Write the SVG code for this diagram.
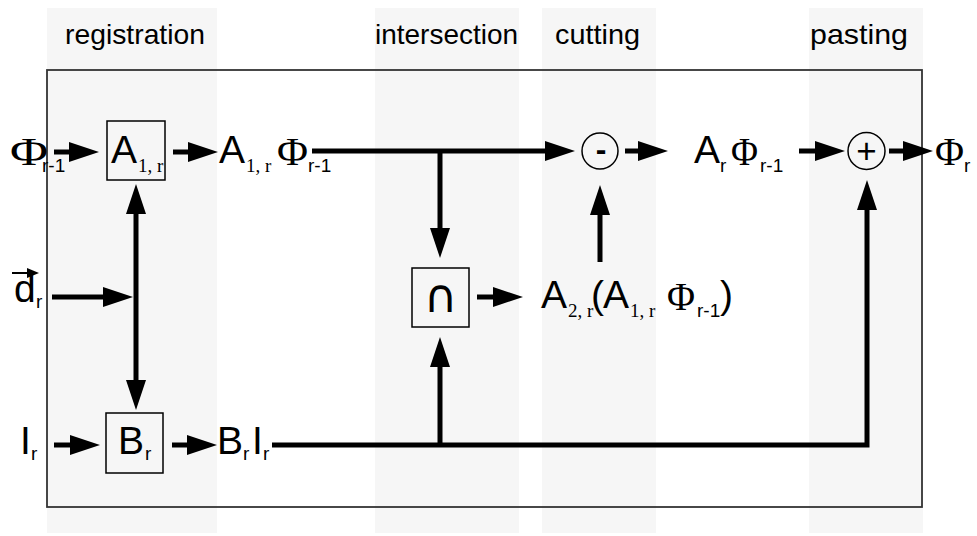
<svg xmlns="http://www.w3.org/2000/svg" width="977" height="536" viewBox="0 0 977 536">
<style>
.band{fill:#f6f6f6}
.hdr{font-family:"Liberation Sans",Arial,sans-serif;font-size:28px;fill:#000}
.big{font-family:"Liberation Sans",Arial,sans-serif;font-size:39px;fill:#000}
.phi{font-family:"Liberation Serif","Times New Roman",serif;font-size:40px;fill:#000}
.sub{font-family:"Liberation Sans",Arial,sans-serif;font-size:19px;fill:#000}
.ssub{font-family:"Liberation Serif","Times New Roman",serif;font-size:19px;fill:#000}
.box{fill:none;stroke:#000;stroke-width:1.5}
.wire{fill:none;stroke:#000;stroke-width:5;marker-end:url(#ah)}
</style>
<defs>
<marker id="ah" markerUnits="userSpaceOnUse" markerWidth="31" markerHeight="21" refX="0" refY="10" orient="auto-start-reverse" viewBox="0 0 31 21">
<path d="M0,0 L30,10 L0,20 z" fill="#000"/>
</marker>
</defs>
<rect width="977" height="536" fill="#fff"/>
<g id="bands">
<rect class="band" x="47" y="8" width="170" height="525"/>
<rect class="band" x="375" y="8" width="144" height="525"/>
<rect class="band" x="542" y="8" width="114" height="525"/>
<rect class="band" x="809" y="8" width="114" height="525"/>
</g>
<g id="headers">
<text class="hdr" x="65" y="44" textLength="140" lengthAdjust="spacingAndGlyphs">registration</text>
<text class="hdr" x="375" y="44" textLength="143" lengthAdjust="spacingAndGlyphs">intersection</text>
<text class="hdr" x="555" y="44" textLength="85" lengthAdjust="spacingAndGlyphs">cutting</text>
<text class="hdr" x="810" y="44" textLength="98" lengthAdjust="spacingAndGlyphs">pasting</text>
</g>
<rect id="frame" x="47" y="70" width="875" height="437" fill="none" stroke="#333" stroke-width="1.8"/>
<g id="connectors">
<line class="wire" x1="54" y1="152" x2="69" y2="152"/>
<line class="wire" x1="173" y1="152" x2="188" y2="152"/>
<line class="wire" x1="312" y1="151" x2="545" y2="151"/>
<line class="wire" x1="440" y1="151" x2="440" y2="228"/>
<line class="wire" x1="625" y1="151" x2="638" y2="151"/>
<line class="wire" x1="799" y1="151" x2="815" y2="151"/>
<line class="wire" x1="889" y1="151" x2="903" y2="151"/>
<line class="wire" x1="52" y1="297" x2="103" y2="297"/>
<line class="wire" x1="136" y1="214" x2="136" y2="380" style="marker-start:url(#ah)"/>
<line class="wire" x1="54" y1="445" x2="70" y2="445"/>
<line class="wire" x1="172" y1="445" x2="187" y2="445"/>
<polyline class="wire" points="272,445 867,445 867,210"/>
<line class="wire" x1="440" y1="445" x2="440" y2="367"/>
<line class="wire" x1="477" y1="297" x2="493" y2="297"/>
<line class="wire" x1="600" y1="262" x2="600" y2="215"/>
</g>
<g id="in-phi">
<text class="phi" x="10" y="165" textLength="38" lengthAdjust="spacingAndGlyphs">Φ</text>
<text class="sub" x="42" y="172">r-1</text>
</g>
<g id="node-A1r">
<rect class="box" x="107" y="121" width="58" height="59"/>
<text class="big" x="111" y="163">A</text>
<text class="ssub" x="138" y="172">1, r</text>
</g>
<g id="label-A1rPhi">
<text class="big" x="219" y="163">A</text>
<text class="ssub" x="246" y="172">1, r</text>
<text class="phi" x="277" y="165" textLength="31" lengthAdjust="spacingAndGlyphs">Φ</text>
<text class="sub" x="308" y="172">r-1</text>
</g>
<g id="in-d">
<line x1="12" y1="273" x2="30" y2="273" stroke="#000" stroke-width="2"/>
<path d="M27,268 L39,273 L27,278 z" fill="#000"/>
<text class="big" x="14" y="302">d</text>
<text class="sub" x="36" y="308">r</text>
</g>
<g id="in-I">
<text class="big" x="20" y="454">I</text>
<text class="sub" x="31" y="460">r</text>
</g>
<g id="node-Br">
<rect class="box" x="106" y="413" width="57" height="60"/>
<text class="big" x="118" y="454">B</text>
<text class="sub" x="145" y="460">r</text>
</g>
<g id="label-BrIr">
<text class="big" x="217" y="454">B</text>
<text class="sub" x="243" y="460">r</text>
<text class="big" x="252" y="454">I</text>
<text class="sub" x="263" y="460">r</text>
</g>
<g id="node-intersect">
<rect class="box" x="412" y="268" width="57" height="59"/>
<text x="440.5" y="312" text-anchor="middle" style="font-family:'DejaVu Sans',sans-serif;font-size:46px">∩</text>
</g>
<g id="label-A2r">
<text class="big" x="541" y="308">A</text>
<text class="ssub" x="568" y="317">2, r</text>
<text class="big" x="591" y="308">(</text>
<text class="big" x="603" y="308">A</text>
<text class="ssub" x="630" y="317">1, r</text>
<text class="phi" x="667" y="310" textLength="28" lengthAdjust="spacingAndGlyphs">Φ</text>
<text class="sub" x="697" y="317">r-1</text>
<text class="big" x="720" y="308">)</text>
</g>
<g id="node-minus">
<circle cx="600" cy="151" r="18" fill="none" stroke="#000" stroke-width="1.5"/>
<text x="601" y="160" text-anchor="middle" style="font-family:'Liberation Sans',Arial,sans-serif;font-size:32px;font-weight:bold">-</text>
</g>
<g id="label-ArPhi">
<text class="big" x="694" y="163">A</text>
<text class="sub" x="720" y="172">r</text>
<text class="phi" x="731" y="165" textLength="27" lengthAdjust="spacingAndGlyphs">Φ</text>
<text class="sub" x="760" y="172">r-1</text>
</g>
<g id="node-plus">
<circle cx="866.5" cy="151" r="18.5" fill="none" stroke="#000" stroke-width="1.5"/>
<text x="866.5" y="163" text-anchor="middle" style="font-family:'Liberation Sans',Arial,sans-serif;font-size:35px">+</text>
</g>
<g id="out-phi">
<text class="phi" x="935" y="165" textLength="29" lengthAdjust="spacingAndGlyphs">Φ</text>
<text class="sub" x="964" y="172">r</text>
</g>
</svg>
